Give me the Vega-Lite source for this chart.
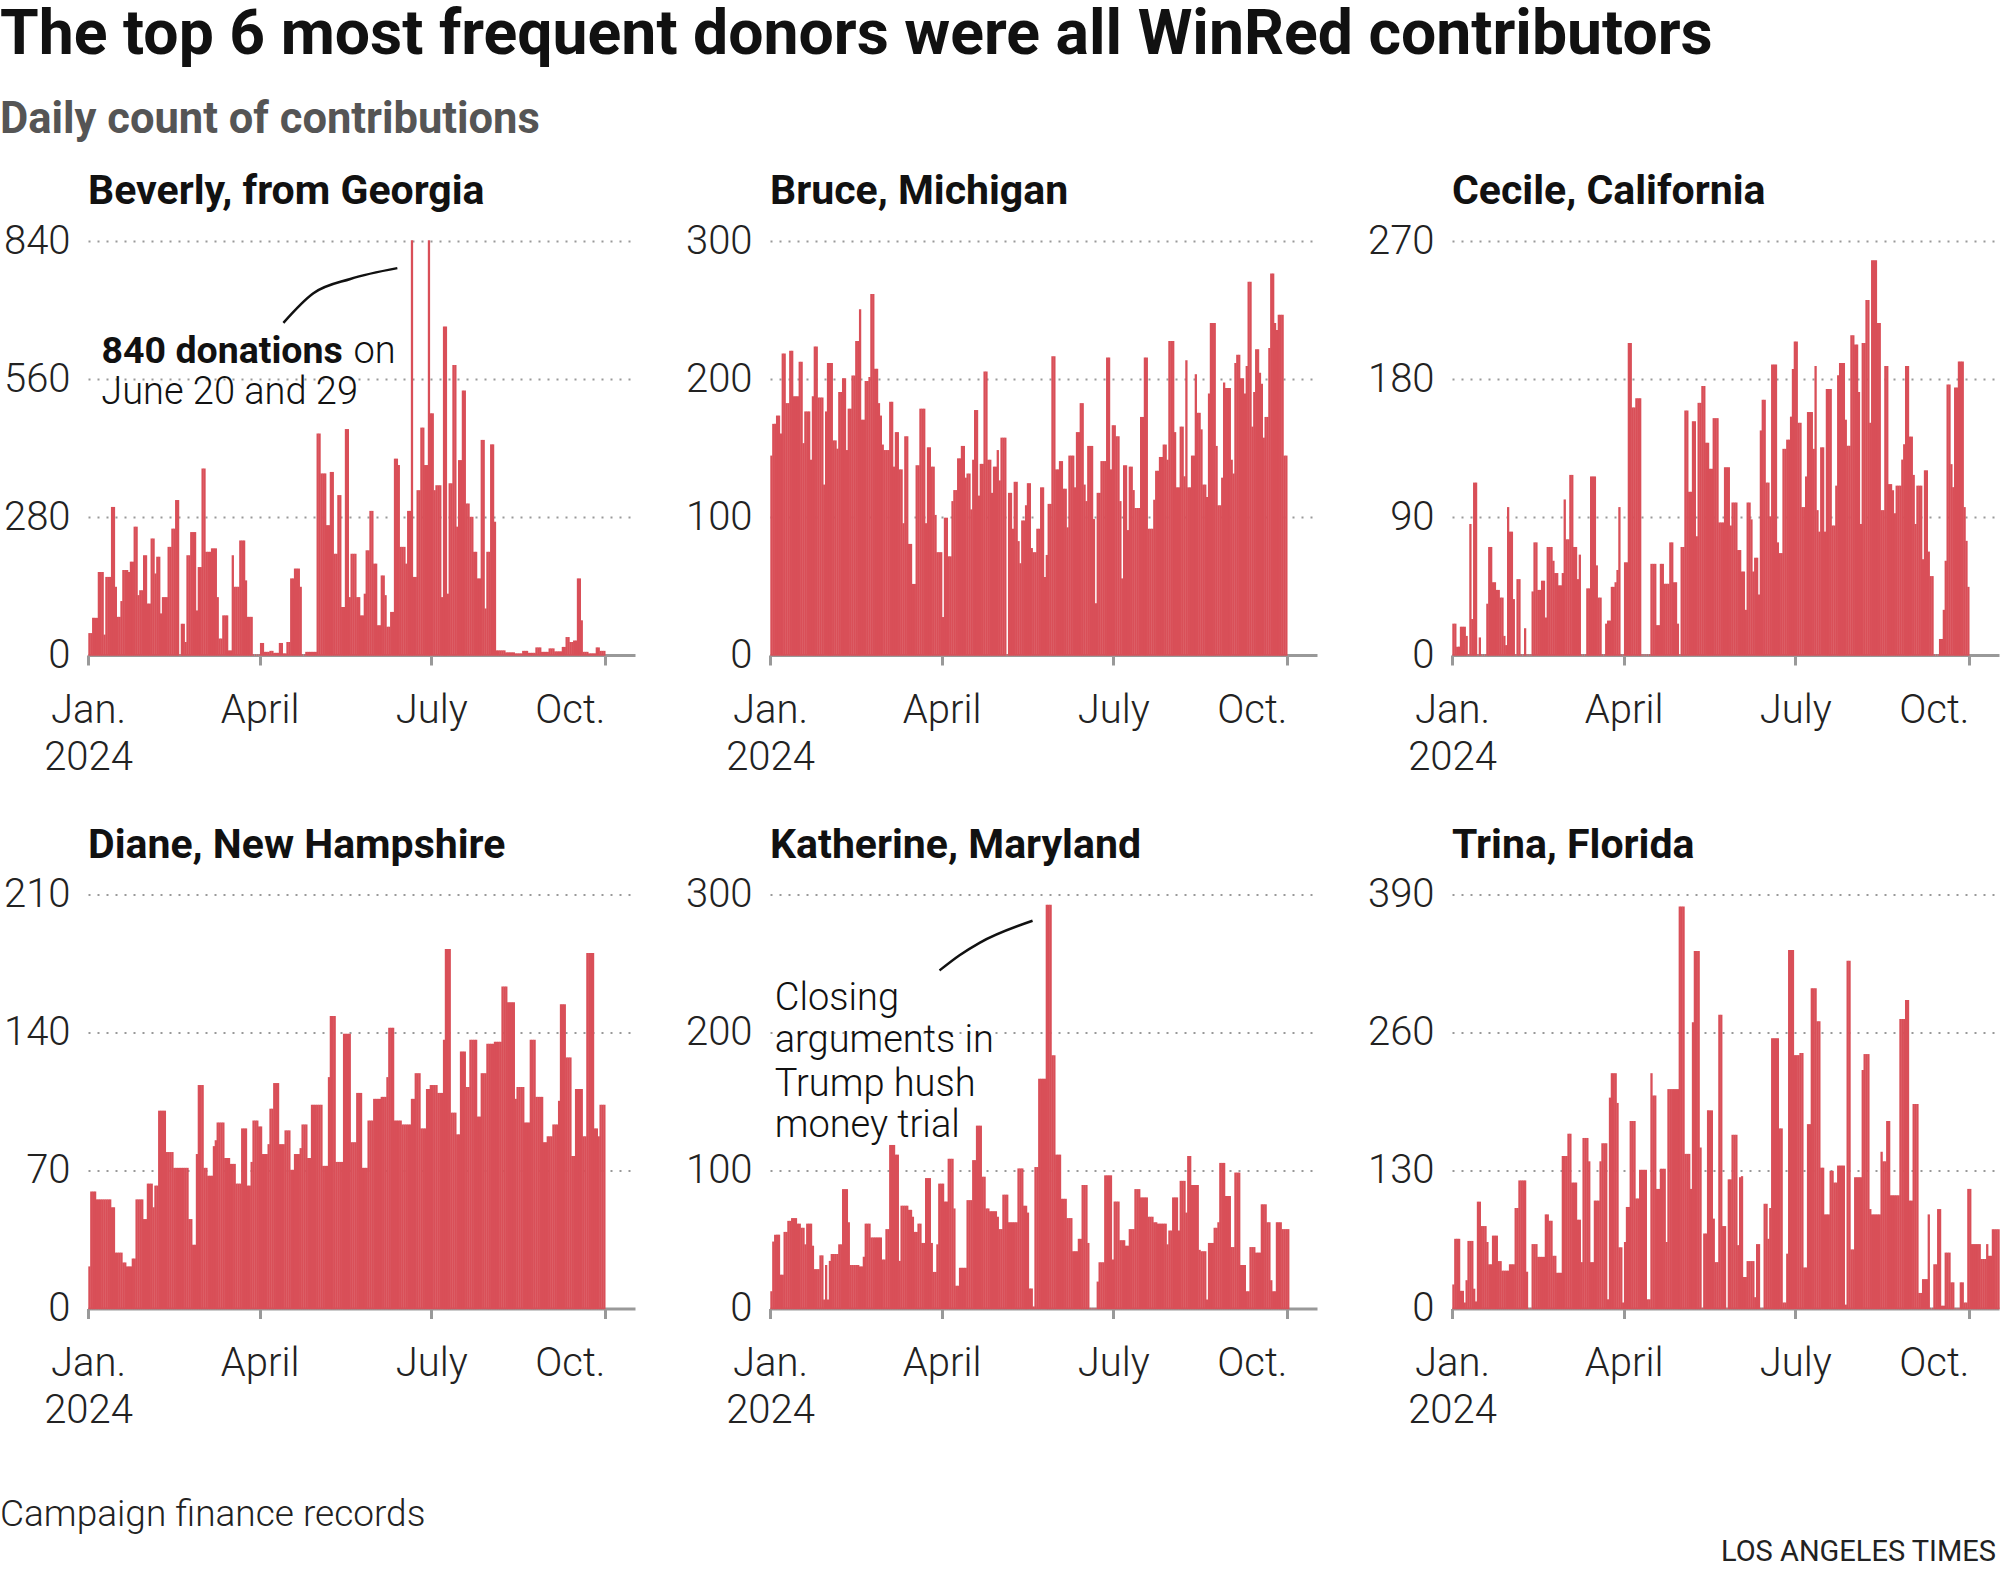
{
"$schema": "https://vega.github.io/schema/vega-lite/v6.json",
"padding": {"top": 3, "left": 0, "right": 0, "bottom": 0},
"background": "white",
"title": {"text": "The top 6 most frequent donors were all WinRed contributors", "subtitle": "Daily count of contributions", "anchor": "start", "frame": "group", "dx": -88, "font": "Roboto", "fontSize": 62.5, "fontWeight": "bold", "color": "#111", "subtitleFont": "Roboto", "subtitleFontSize": 43.5, "subtitleFontWeight": "bold", "subtitleColor": "#555", "subtitlePadding": 32, "offset": 28.5},
"datasets": {"donors": [
{"d":"2024-01-01","bev":43,"bru":144,"cec":20,"dia":21,"kat":12,"tri":22},
{"d":"2024-01-02","bev":43,"bru":167,"cec":20,"dia":59,"kat":48,"tri":65},
{"d":"2024-01-03","bev":74,"bru":167,"cec":5,"dia":59,"kat":53,"tri":65},
{"d":"2024-01-04","bev":74,"bru":173,"cec":5,"dia":59,"kat":53,"tri":65},
{"d":"2024-01-05","bev":74,"bru":173,"cec":18,"dia":55,"kat":53,"tri":16},
{"d":"2024-01-06","bev":167,"bru":160,"cec":18,"dia":55,"kat":24,"tri":16},
{"d":"2024-01-07","bev":167,"bru":218,"cec":18,"dia":55,"kat":24,"tri":5},
{"d":"2024-01-08","bev":167,"bru":218,"cec":12,"dia":55,"kat":55,"tri":26},
{"d":"2024-01-09","bev":40,"bru":182,"cec":0,"dia":55,"kat":55,"tri":63},
{"d":"2024-01-10","bev":157,"bru":182,"cec":85,"dia":55,"kat":63,"tri":63},
{"d":"2024-01-11","bev":157,"bru":220,"cec":23,"dia":55,"kat":63,"tri":63},
{"d":"2024-01-12","bev":157,"bru":220,"cec":112,"dia":55,"kat":65,"tri":18},
{"d":"2024-01-13","bev":299,"bru":187,"cec":112,"dia":51,"kat":65,"tri":6},
{"d":"2024-01-14","bev":299,"bru":187,"cec":0,"dia":51,"kat":65,"tri":100},
{"d":"2024-01-15","bev":137,"bru":187,"cec":11,"dia":28,"kat":61,"tri":100},
{"d":"2024-01-16","bev":76,"bru":212,"cec":0,"dia":28,"kat":61,"tri":77},
{"d":"2024-01-17","bev":76,"bru":212,"cec":0,"dia":28,"kat":58,"tri":77},
{"d":"2024-01-18","bev":108,"bru":153,"cec":0,"dia":28,"kat":58,"tri":77},
{"d":"2024-01-19","bev":171,"bru":176,"cec":33,"dia":23,"kat":46,"tri":62},
{"d":"2024-01-20","bev":171,"bru":176,"cec":70,"dia":23,"kat":61,"tri":41},
{"d":"2024-01-21","bev":171,"bru":176,"cec":70,"dia":21,"kat":61,"tri":41},
{"d":"2024-01-22","bev":167,"bru":141,"cec":47,"dia":21,"kat":61,"tri":68},
{"d":"2024-01-23","bev":188,"bru":187,"cec":47,"dia":21,"kat":45,"tri":68},
{"d":"2024-01-24","bev":188,"bru":223,"cec":42,"dia":25,"kat":28,"tri":68},
{"d":"2024-01-25","bev":259,"bru":223,"cec":42,"dia":25,"kat":28,"tri":44},
{"d":"2024-01-26","bev":259,"bru":186,"cec":37,"dia":55,"kat":28,"tri":44},
{"d":"2024-01-27","bev":120,"bru":186,"cec":37,"dia":55,"kat":38,"tri":35},
{"d":"2024-01-28","bev":130,"bru":186,"cec":12,"dia":55,"kat":38,"tri":35},
{"d":"2024-01-29","bev":130,"bru":123,"cec":6,"dia":55,"kat":6,"tri":35},
{"d":"2024-01-30","bev":201,"bru":176,"cec":96,"dia":45,"kat":31,"tri":35},
{"d":"2024-01-31","bev":201,"bru":211,"cec":80,"dia":45,"kat":6,"tri":41},
{"d":"2024-02-01","bev":103,"bru":211,"cec":80,"dia":63,"kat":34,"tri":41},
{"d":"2024-02-02","bev":103,"bru":211,"cec":36,"dia":63,"kat":39,"tri":41},
{"d":"2024-02-03","bev":235,"bru":155,"cec":0,"dia":63,"kat":39,"tri":94},
{"d":"2024-02-04","bev":235,"bru":155,"cec":49,"dia":51,"kat":39,"tri":94},
{"d":"2024-02-05","bev":164,"bru":149,"cec":49,"dia":62,"kat":39,"tri":120},
{"d":"2024-02-06","bev":198,"bru":190,"cec":0,"dia":62,"kat":46,"tri":120},
{"d":"2024-02-07","bev":198,"bru":190,"cec":0,"dia":100,"kat":46,"tri":120},
{"d":"2024-02-08","bev":83,"bru":200,"cec":17,"dia":100,"kat":86,"tri":120},
{"d":"2024-02-09","bev":116,"bru":200,"cec":0,"dia":100,"kat":86,"tri":34},
{"d":"2024-02-10","bev":116,"bru":148,"cec":0,"dia":100,"kat":86,"tri":0},
{"d":"2024-02-11","bev":116,"bru":178,"cec":0,"dia":79,"kat":62,"tri":0},
{"d":"2024-02-12","bev":218,"bru":178,"cec":41,"dia":79,"kat":31,"tri":60},
{"d":"2024-02-13","bev":218,"bru":202,"cec":73,"dia":79,"kat":31,"tri":60},
{"d":"2024-02-14","bev":255,"bru":202,"cec":73,"dia":79,"kat":31,"tri":60},
{"d":"2024-02-15","bev":255,"bru":227,"cec":42,"dia":71,"kat":31,"tri":48},
{"d":"2024-02-16","bev":313,"bru":227,"cec":42,"dia":71,"kat":31,"tri":48},
{"d":"2024-02-17","bev":313,"bru":250,"cec":48,"dia":71,"kat":30,"tri":48},
{"d":"2024-02-18","bev":0,"bru":170,"cec":48,"dia":71,"kat":30,"tri":48},
{"d":"2024-02-19","bev":62,"bru":170,"cec":24,"dia":71,"kat":37,"tri":88},
{"d":"2024-02-20","bev":62,"bru":198,"cec":70,"dia":71,"kat":61,"tri":88},
{"d":"2024-02-21","bev":25,"bru":198,"cec":70,"dia":71,"kat":61,"tri":82},
{"d":"2024-02-22","bev":201,"bru":201,"cec":70,"dia":71,"kat":61,"tri":82},
{"d":"2024-02-23","bev":201,"bru":261,"cec":61,"dia":45,"kat":51,"tri":49},
{"d":"2024-02-24","bev":248,"bru":261,"cec":53,"dia":45,"kat":51,"tri":49},
{"d":"2024-02-25","bev":248,"bru":207,"cec":53,"dia":32,"kat":51,"tri":33},
{"d":"2024-02-26","bev":248,"bru":207,"cec":45,"dia":32,"kat":51,"tri":33},
{"d":"2024-02-27","bev":89,"bru":182,"cec":45,"dia":78,"kat":51,"tri":33},
{"d":"2024-02-28","bev":177,"bru":173,"cec":53,"dia":113,"kat":51,"tri":143},
{"d":"2024-02-29","bev":177,"bru":152,"cec":101,"dia":113,"kat":35,"tri":143},
{"d":"2024-03-01","bev":377,"bru":148,"cec":75,"dia":113,"kat":35,"tri":143},
{"d":"2024-03-02","bev":377,"bru":148,"cec":75,"dia":71,"kat":57,"tri":164},
{"d":"2024-03-03","bev":208,"bru":148,"cec":117,"dia":71,"kat":57,"tri":164},
{"d":"2024-03-04","bev":208,"bru":183,"cec":117,"dia":67,"kat":118,"tri":118},
{"d":"2024-03-05","bev":208,"bru":183,"cec":70,"dia":67,"kat":118,"tri":118},
{"d":"2024-03-06","bev":215,"bru":136,"cec":70,"dia":67,"kat":118,"tri":118},
{"d":"2024-03-07","bev":215,"bru":161,"cec":49,"dia":82,"kat":111,"tri":83},
{"d":"2024-03-08","bev":215,"bru":161,"cec":65,"dia":85,"kat":111,"tri":83},
{"d":"2024-03-09","bev":116,"bru":134,"cec":0,"dia":94,"kat":34,"tri":43},
{"d":"2024-03-10","bev":32,"bru":134,"cec":0,"dia":94,"kat":74,"tri":160},
{"d":"2024-03-11","bev":32,"bru":95,"cec":0,"dia":94,"kat":74,"tri":160},
{"d":"2024-03-12","bev":79,"bru":158,"cec":43,"dia":94,"kat":74,"tri":160},
{"d":"2024-03-13","bev":79,"bru":158,"cec":43,"dia":76,"kat":74,"tri":138},
{"d":"2024-03-14","bev":79,"bru":80,"cec":116,"dia":76,"kat":71,"tri":43},
{"d":"2024-03-15","bev":8,"bru":80,"cec":116,"dia":76,"kat":71,"tri":43},
{"d":"2024-03-16","bev":8,"bru":51,"cec":116,"dia":73,"kat":66,"tri":101},
{"d":"2024-03-17","bev":201,"bru":51,"cec":58,"dia":73,"kat":55,"tri":101},
{"d":"2024-03-18","bev":137,"bru":137,"cec":37,"dia":73,"kat":55,"tri":101},
{"d":"2024-03-19","bev":137,"bru":137,"cec":37,"dia":63,"kat":61,"tri":138},
{"d":"2024-03-20","bev":137,"bru":178,"cec":0,"dia":63,"kat":61,"tri":155},
{"d":"2024-03-21","bev":231,"bru":178,"cec":0,"dia":63,"kat":47,"tri":155},
{"d":"2024-03-22","bev":231,"bru":178,"cec":20,"dia":91,"kat":47,"tri":155},
{"d":"2024-03-23","bev":231,"bru":95,"cec":22,"dia":91,"kat":94,"tri":8},
{"d":"2024-03-24","bev":150,"bru":150,"cec":22,"dia":91,"kat":94,"tri":198},
{"d":"2024-03-25","bev":76,"bru":150,"cec":44,"dia":62,"kat":94,"tri":221},
{"d":"2024-03-26","bev":76,"bru":136,"cec":44,"dia":62,"kat":47,"tri":221},
{"d":"2024-03-27","bev":76,"bru":136,"cec":47,"dia":74,"kat":26,"tri":221},
{"d":"2024-03-28","bev":0,"bru":101,"cec":55,"dia":95,"kat":26,"tri":193},
{"d":"2024-03-29","bev":0,"bru":74,"cec":96,"dia":95,"kat":46,"tri":57},
{"d":"2024-03-30","bev":0,"bru":74,"cec":0,"dia":95,"kat":90,"tri":57},
{"d":"2024-03-31","bev":0,"bru":74,"cec":0,"dia":92,"kat":90,"tri":5},
{"d":"2024-04-01","bev":23,"bru":27,"cec":60,"dia":92,"kat":90,"tri":62},
{"d":"2024-04-02","bev":23,"bru":99,"cec":60,"dia":78,"kat":77,"tri":95},
{"d":"2024-04-03","bev":5,"bru":99,"cec":203,"dia":78,"kat":77,"tri":95},
{"d":"2024-04-04","bev":5,"bru":71,"cec":203,"dia":78,"kat":108,"tri":176},
{"d":"2024-04-05","bev":5,"bru":71,"cec":161,"dia":83,"kat":108,"tri":176},
{"d":"2024-04-06","bev":7,"bru":111,"cec":161,"dia":101,"kat":108,"tri":176},
{"d":"2024-04-07","bev":7,"bru":119,"cec":167,"dia":101,"kat":72,"tri":103},
{"d":"2024-04-08","bev":3,"bru":119,"cec":167,"dia":114,"kat":16,"tri":103},
{"d":"2024-04-09","bev":3,"bru":142,"cec":167,"dia":114,"kat":16,"tri":130},
{"d":"2024-04-10","bev":3,"bru":142,"cec":0,"dia":114,"kat":29,"tri":130},
{"d":"2024-04-11","bev":23,"bru":151,"cec":0,"dia":83,"kat":29,"tri":130},
{"d":"2024-04-12","bev":23,"bru":151,"cec":0,"dia":83,"kat":29,"tri":130},
{"d":"2024-04-13","bev":2,"bru":128,"cec":0,"dia":83,"kat":29,"tri":8},
{"d":"2024-04-14","bev":2,"bru":131,"cec":0,"dia":90,"kat":78,"tri":8},
{"d":"2024-04-15","bev":25,"bru":131,"cec":59,"dia":90,"kat":78,"tri":221},
{"d":"2024-04-16","bev":25,"bru":105,"cec":59,"dia":90,"kat":78,"tri":200},
{"d":"2024-04-17","bev":154,"bru":141,"cec":59,"dia":70,"kat":107,"tri":200},
{"d":"2024-04-18","bev":154,"bru":177,"cec":19,"dia":70,"kat":107,"tri":112},
{"d":"2024-04-19","bev":174,"bru":177,"cec":19,"dia":78,"kat":132,"tri":112},
{"d":"2024-04-20","bev":174,"bru":115,"cec":59,"dia":78,"kat":132,"tri":131},
{"d":"2024-04-21","bev":174,"bru":138,"cec":59,"dia":78,"kat":132,"tri":131},
{"d":"2024-04-22","bev":137,"bru":138,"cec":46,"dia":81,"kat":95,"tri":131},
{"d":"2024-04-23","bev":0,"bru":205,"cec":46,"dia":93,"kat":95,"tri":62},
{"d":"2024-04-24","bev":0,"bru":205,"cec":46,"dia":93,"kat":72,"tri":206},
{"d":"2024-04-25","bev":5,"bru":141,"cec":73,"dia":93,"kat":72,"tri":206},
{"d":"2024-04-26","bev":5,"bru":141,"cec":73,"dia":76,"kat":70,"tri":206},
{"d":"2024-04-27","bev":5,"bru":117,"cec":47,"dia":76,"kat":70,"tri":206},
{"d":"2024-04-28","bev":5,"bru":136,"cec":47,"dia":103,"kat":70,"tri":206},
{"d":"2024-04-29","bev":5,"bru":136,"cec":20,"dia":103,"kat":70,"tri":206},
{"d":"2024-04-30","bev":5,"bru":148,"cec":0,"dia":103,"kat":66,"tri":378},
{"d":"2024-05-01","bev":448,"bru":126,"cec":70,"dia":103,"kat":57,"tri":378},
{"d":"2024-05-02","bev":448,"bru":157,"cec":70,"dia":103,"kat":57,"tri":378},
{"d":"2024-05-03","bev":367,"bru":157,"cec":159,"dia":103,"kat":82,"tri":145},
{"d":"2024-05-04","bev":367,"bru":157,"cec":159,"dia":72,"kat":82,"tri":145},
{"d":"2024-05-05","bev":367,"bru":0,"cec":106,"dia":72,"kat":82,"tri":145},
{"d":"2024-05-06","bev":262,"bru":117,"cec":106,"dia":72,"kat":62,"tri":112},
{"d":"2024-05-07","bev":262,"bru":117,"cec":152,"dia":117,"kat":62,"tri":269},
{"d":"2024-05-08","bev":370,"bru":91,"cec":152,"dia":148,"kat":62,"tri":336},
{"d":"2024-05-09","bev":370,"bru":125,"cec":77,"dia":148,"kat":62,"tri":336},
{"d":"2024-05-10","bev":204,"bru":125,"cec":164,"dia":148,"kat":62,"tri":336},
{"d":"2024-05-11","bev":204,"bru":82,"cec":164,"dia":74,"kat":101,"tri":151},
{"d":"2024-05-12","bev":323,"bru":66,"cec":175,"dia":74,"kat":101,"tri":0},
{"d":"2024-05-13","bev":323,"bru":97,"cec":175,"dia":74,"kat":101,"tri":70},
{"d":"2024-05-14","bev":96,"bru":97,"cec":138,"dia":74,"kat":74,"tri":70},
{"d":"2024-05-15","bev":96,"bru":108,"cec":138,"dia":139,"kat":74,"tri":186},
{"d":"2024-05-16","bev":457,"bru":124,"cec":121,"dia":139,"kat":69,"tri":186},
{"d":"2024-05-17","bev":457,"bru":124,"cec":121,"dia":139,"kat":14,"tri":186},
{"d":"2024-05-18","bev":116,"bru":77,"cec":154,"dia":139,"kat":14,"tri":84},
{"d":"2024-05-19","bev":204,"bru":74,"cec":154,"dia":84,"kat":1,"tri":43},
{"d":"2024-05-20","bev":204,"bru":74,"cec":154,"dia":84,"kat":102,"tri":43},
{"d":"2024-05-21","bev":204,"bru":91,"cec":86,"dia":84,"kat":102,"tri":276},
{"d":"2024-05-22","bev":116,"bru":91,"cec":86,"dia":109,"kat":166,"tri":276},
{"d":"2024-05-23","bev":116,"bru":121,"cec":86,"dia":109,"kat":166,"tri":77},
{"d":"2024-05-24","bev":79,"bru":121,"cec":122,"dia":109,"kat":166,"tri":77},
{"d":"2024-05-25","bev":79,"bru":56,"cec":122,"dia":71,"kat":166,"tri":0},
{"d":"2024-05-26","bev":123,"bru":72,"cec":122,"dia":71,"kat":292,"tri":121},
{"d":"2024-05-27","bev":211,"bru":109,"cec":84,"dia":71,"kat":292,"tri":121},
{"d":"2024-05-28","bev":211,"bru":109,"cec":99,"dia":95,"kat":292,"tri":163},
{"d":"2024-05-29","bev":291,"bru":216,"cec":99,"dia":95,"kat":183,"tri":163},
{"d":"2024-05-30","bev":291,"bru":216,"cec":99,"dia":95,"kat":183,"tri":163},
{"d":"2024-05-31","bev":184,"bru":134,"cec":68,"dia":106,"kat":111,"tri":59},
{"d":"2024-06-01","bev":184,"bru":134,"cec":68,"dia":106,"kat":111,"tri":123},
{"d":"2024-06-02","bev":59,"bru":140,"cec":54,"dia":106,"kat":111,"tri":124},
{"d":"2024-06-03","bev":59,"bru":140,"cec":54,"dia":106,"kat":79,"tri":29},
{"d":"2024-06-04","bev":160,"bru":120,"cec":29,"dia":107,"kat":79,"tri":29},
{"d":"2024-06-05","bev":160,"bru":120,"cec":99,"dia":107,"kat":79,"tri":44},
{"d":"2024-06-06","bev":120,"bru":92,"cec":99,"dia":107,"kat":65,"tri":44},
{"d":"2024-06-07","bev":56,"bru":144,"cec":88,"dia":117,"kat":65,"tri":44},
{"d":"2024-06-08","bev":56,"bru":144,"cec":54,"dia":142,"kat":65,"tri":44},
{"d":"2024-06-09","bev":86,"bru":144,"cec":63,"dia":142,"kat":41,"tri":10},
{"d":"2024-06-10","bev":86,"bru":121,"cec":63,"dia":142,"kat":41,"tri":60},
{"d":"2024-06-11","bev":397,"bru":161,"cec":39,"dia":95,"kat":41,"tri":60},
{"d":"2024-06-12","bev":397,"bru":161,"cec":146,"dia":95,"kat":50,"tri":0},
{"d":"2024-06-13","bev":384,"bru":182,"cec":166,"dia":95,"kat":50,"tri":0},
{"d":"2024-06-14","bev":218,"bru":182,"cec":166,"dia":95,"kat":89,"tri":98},
{"d":"2024-06-15","bev":218,"bru":123,"cec":112,"dia":93,"kat":89,"tri":98},
{"d":"2024-06-16","bev":218,"bru":111,"cec":112,"dia":93,"kat":89,"tri":65},
{"d":"2024-06-17","bev":184,"bru":151,"cec":90,"dia":93,"kat":47,"tri":94},
{"d":"2024-06-18","bev":291,"bru":151,"cec":189,"dia":93,"kat":0,"tri":254},
{"d":"2024-06-19","bev":291,"bru":151,"cec":189,"dia":93,"kat":0,"tri":254},
{"d":"2024-06-20","bev":840,"bru":98,"cec":189,"dia":106,"kat":0,"tri":254},
{"d":"2024-06-21","bev":157,"bru":37,"cec":73,"dia":106,"kat":0,"tri":254},
{"d":"2024-06-22","bev":157,"bru":117,"cec":66,"dia":119,"kat":19,"tri":169},
{"d":"2024-06-23","bev":333,"bru":117,"cec":66,"dia":119,"kat":33,"tri":169},
{"d":"2024-06-24","bev":333,"bru":140,"cec":134,"dia":119,"kat":33,"tri":5},
{"d":"2024-06-25","bev":460,"bru":140,"cec":134,"dia":91,"kat":33,"tri":5},
{"d":"2024-06-26","bev":460,"bru":140,"cec":140,"dia":91,"kat":96,"tri":51},
{"d":"2024-06-27","bev":384,"bru":215,"cec":140,"dia":91,"kat":96,"tri":337},
{"d":"2024-06-28","bev":384,"bru":215,"cec":155,"dia":111,"kat":96,"tri":337},
{"d":"2024-06-29","bev":840,"bru":134,"cec":186,"dia":111,"kat":96,"tri":337},
{"d":"2024-06-30","bev":489,"bru":166,"cec":204,"dia":113,"kat":35,"tri":238},
{"d":"2024-07-01","bev":489,"bru":166,"cec":204,"dia":113,"kat":77,"tri":238},
{"d":"2024-07-02","bev":333,"bru":158,"cec":151,"dia":113,"kat":77,"tri":238},
{"d":"2024-07-03","bev":343,"bru":158,"cec":151,"dia":113,"kat":77,"tri":240},
{"d":"2024-07-04","bev":343,"bru":111,"cec":96,"dia":109,"kat":49,"tri":240},
{"d":"2024-07-05","bev":343,"bru":55,"cec":96,"dia":109,"kat":49,"tri":38},
{"d":"2024-07-06","bev":116,"bru":137,"cec":116,"dia":109,"kat":49,"tri":38},
{"d":"2024-07-07","bev":665,"bru":137,"cec":158,"dia":136,"kat":45,"tri":173},
{"d":"2024-07-08","bev":665,"bru":90,"cec":158,"dia":182,"kat":45,"tri":173},
{"d":"2024-07-09","bev":123,"bru":136,"cec":158,"dia":182,"kat":57,"tri":301},
{"d":"2024-07-10","bev":347,"bru":136,"cec":134,"dia":182,"kat":57,"tri":301},
{"d":"2024-07-11","bev":347,"bru":119,"cec":188,"dia":99,"kat":57,"tri":301},
{"d":"2024-07-12","bev":587,"bru":106,"cec":94,"dia":99,"kat":86,"tri":270},
{"d":"2024-07-13","bev":587,"bru":106,"cec":80,"dia":99,"kat":86,"tri":270},
{"d":"2024-07-14","bev":259,"bru":106,"cec":135,"dia":88,"kat":86,"tri":132},
{"d":"2024-07-15","bev":394,"bru":172,"cec":135,"dia":88,"kat":80,"tri":132},
{"d":"2024-07-16","bev":394,"bru":172,"cec":80,"dia":130,"kat":80,"tri":88},
{"d":"2024-07-17","bev":535,"bru":215,"cec":173,"dia":130,"kat":80,"tri":88},
{"d":"2024-07-18","bev":535,"bru":215,"cec":173,"dia":130,"kat":80,"tri":88},
{"d":"2024-07-19","bev":306,"bru":91,"cec":173,"dia":112,"kat":66,"tri":129},
{"d":"2024-07-20","bev":306,"bru":91,"cec":84,"dia":112,"kat":66,"tri":129},
{"d":"2024-07-21","bev":279,"bru":91,"cec":84,"dia":136,"kat":66,"tri":118},
{"d":"2024-07-22","bev":279,"bru":112,"cec":110,"dia":136,"kat":62,"tri":118},
{"d":"2024-07-23","bev":208,"bru":133,"cec":182,"dia":136,"kat":62,"tri":134},
{"d":"2024-07-24","bev":208,"bru":133,"cec":190,"dia":136,"kat":61,"tri":134},
{"d":"2024-07-25","bev":154,"bru":143,"cec":190,"dia":97,"kat":61,"tri":134},
{"d":"2024-07-26","bev":154,"bru":143,"cec":190,"dia":97,"kat":61,"tri":134},
{"d":"2024-07-27","bev":435,"bru":152,"cec":153,"dia":119,"kat":61,"tri":3},
{"d":"2024-07-28","bev":435,"bru":152,"cec":136,"dia":119,"kat":61,"tri":327},
{"d":"2024-07-29","bev":93,"bru":141,"cec":136,"dia":119,"kat":46,"tri":327},
{"d":"2024-07-30","bev":208,"bru":227,"cec":208,"dia":134,"kat":56,"tri":55},
{"d":"2024-07-31","bev":208,"bru":227,"cec":208,"dia":134,"kat":56,"tri":55},
{"d":"2024-08-01","bev":426,"bru":227,"cec":202,"dia":134,"kat":80,"tri":123},
{"d":"2024-08-02","bev":426,"bru":161,"cec":202,"dia":134,"kat":80,"tri":123},
{"d":"2024-08-03","bev":269,"bru":121,"cec":171,"dia":135,"kat":80,"tri":123},
{"d":"2024-08-04","bev":8,"bru":121,"cec":85,"dia":135,"kat":56,"tri":123},
{"d":"2024-08-05","bev":8,"bru":165,"cec":203,"dia":135,"kat":92,"tri":224},
{"d":"2024-08-06","bev":8,"bru":165,"cec":203,"dia":135,"kat":92,"tri":239},
{"d":"2024-08-07","bev":8,"bru":129,"cec":231,"dia":163,"kat":92,"tri":239},
{"d":"2024-08-08","bev":8,"bru":213,"cec":231,"dia":163,"kat":69,"tri":239},
{"d":"2024-08-09","bev":4,"bru":121,"cec":151,"dia":163,"kat":110,"tri":93},
{"d":"2024-08-10","bev":4,"bru":121,"cec":257,"dia":155,"kat":110,"tri":88},
{"d":"2024-08-11","bev":4,"bru":144,"cec":257,"dia":155,"kat":89,"tri":88},
{"d":"2024-08-12","bev":4,"bru":144,"cec":257,"dia":155,"kat":89,"tri":88},
{"d":"2024-08-13","bev":4,"bru":203,"cec":216,"dia":155,"kat":89,"tri":88},
{"d":"2024-08-14","bev":2,"bru":175,"cec":216,"dia":106,"kat":89,"tri":88},
{"d":"2024-08-15","bev":2,"bru":175,"cec":94,"dia":112,"kat":42,"tri":147},
{"d":"2024-08-16","bev":2,"bru":163,"cec":94,"dia":112,"kat":41,"tri":138},
{"d":"2024-08-17","bev":2,"bru":123,"cec":188,"dia":112,"kat":41,"tri":138},
{"d":"2024-08-18","bev":7,"bru":123,"cec":188,"dia":112,"kat":41,"tri":176},
{"d":"2024-08-19","bev":7,"bru":114,"cec":111,"dia":94,"kat":6,"tri":176},
{"d":"2024-08-20","bev":7,"bru":189,"cec":111,"dia":94,"kat":47,"tri":106},
{"d":"2024-08-21","bev":3,"bru":240,"cec":107,"dia":94,"kat":47,"tri":106},
{"d":"2024-08-22","bev":3,"bru":240,"cec":92,"dia":136,"kat":47,"tri":106},
{"d":"2024-08-23","bev":3,"bru":240,"cec":110,"dia":136,"kat":58,"tri":106},
{"d":"2024-08-24","bev":3,"bru":151,"cec":110,"dia":136,"kat":58,"tri":106},
{"d":"2024-08-25","bev":14,"bru":108,"cec":110,"dia":107,"kat":62,"tri":272},
{"d":"2024-08-26","bev":14,"bru":108,"cec":127,"dia":107,"kat":105,"tri":272},
{"d":"2024-08-27","bev":14,"bru":128,"cec":137,"dia":107,"kat":105,"tri":272},
{"d":"2024-08-28","bev":5,"bru":197,"cec":188,"dia":107,"kat":105,"tri":290},
{"d":"2024-08-29","bev":5,"bru":193,"cec":188,"dia":84,"kat":81,"tri":290},
{"d":"2024-08-30","bev":5,"bru":193,"cec":142,"dia":84,"kat":81,"tri":101},
{"d":"2024-08-31","bev":5,"bru":193,"cec":142,"dia":87,"kat":81,"tri":101},
{"d":"2024-09-01","bev":12,"bru":141,"cec":117,"dia":87,"kat":44,"tri":192},
{"d":"2024-09-02","bev":12,"bru":131,"cec":85,"dia":87,"kat":44,"tri":192},
{"d":"2024-09-03","bev":12,"bru":211,"cec":110,"dia":93,"kat":98,"tri":192},
{"d":"2024-09-04","bev":6,"bru":217,"cec":110,"dia":93,"kat":98,"tri":14},
{"d":"2024-09-05","bev":6,"bru":217,"cec":110,"dia":93,"kat":98,"tri":14},
{"d":"2024-09-06","bev":6,"bru":200,"cec":62,"dia":105,"kat":31,"tri":27},
{"d":"2024-09-07","bev":6,"bru":200,"cec":120,"dia":154,"kat":31,"tri":27},
{"d":"2024-09-08","bev":15,"bru":189,"cec":120,"dia":154,"kat":31,"tri":27},
{"d":"2024-09-09","bev":15,"bru":209,"cec":67,"dia":154,"kat":12,"tri":88},
{"d":"2024-09-10","bev":35,"bru":270,"cec":51,"dia":127,"kat":12,"tri":0},
{"d":"2024-09-11","bev":35,"bru":270,"cec":51,"dia":127,"kat":44,"tri":0},
{"d":"2024-09-12","bev":25,"bru":165,"cec":0,"dia":127,"kat":44,"tri":41},
{"d":"2024-09-13","bev":25,"bru":190,"cec":0,"dia":77,"kat":44,"tri":41},
{"d":"2024-09-14","bev":28,"bru":221,"cec":0,"dia":77,"kat":40,"tri":93},
{"d":"2024-09-15","bev":28,"bru":221,"cec":10,"dia":111,"kat":40,"tri":93},
{"d":"2024-09-16","bev":154,"bru":204,"cec":10,"dia":111,"kat":40,"tri":2},
{"d":"2024-09-17","bev":154,"bru":196,"cec":29,"dia":111,"kat":75,"tri":2},
{"d":"2024-09-18","bev":69,"bru":157,"cec":61,"dia":111,"kat":75,"tri":52},
{"d":"2024-09-19","bev":5,"bru":172,"cec":176,"dia":87,"kat":75,"tri":52},
{"d":"2024-09-20","bev":5,"bru":172,"cec":176,"dia":87,"kat":62,"tri":52},
{"d":"2024-09-21","bev":5,"bru":222,"cec":124,"dia":180,"kat":62,"tri":24},
{"d":"2024-09-22","bev":2,"bru":276,"cec":109,"dia":180,"kat":20,"tri":24},
{"d":"2024-09-23","bev":2,"bru":276,"cec":174,"dia":180,"kat":12,"tri":0},
{"d":"2024-09-24","bev":2,"bru":240,"cec":174,"dia":180,"kat":12,"tri":0},
{"d":"2024-09-25","bev":2,"bru":235,"cec":191,"dia":91,"kat":62,"tri":0},
{"d":"2024-09-26","bev":14,"bru":246,"cec":191,"dia":91,"kat":62,"tri":24},
{"d":"2024-09-27","bev":14,"bru":246,"cec":191,"dia":87,"kat":62,"tri":24},
{"d":"2024-09-28","bev":7,"bru":246,"cec":96,"dia":103,"kat":57,"tri":5},
{"d":"2024-09-29","bev":7,"bru":144,"cec":74,"dia":103,"kat":57,"tri":5},
{"d":"2024-09-30","bev":7,"bru":144,"cec":44,"dia":103,"kat":57,"tri":112},
{"d":"2024-10-01","kat":57,"tri":112},
{"d":"2024-10-02","tri":60},
{"d":"2024-10-03","tri":60},
{"d":"2024-10-04","tri":60},
{"d":"2024-10-05","tri":60},
{"d":"2024-10-06","tri":60},
{"d":"2024-10-07","tri":46},
{"d":"2024-10-08","tri":46},
{"d":"2024-10-09","tri":46},
{"d":"2024-10-10","tri":60},
{"d":"2024-10-11","tri":49},
{"d":"2024-10-12","tri":49},
{"d":"2024-10-13","tri":74},
{"d":"2024-10-14","tri":74},
{"d":"2024-10-15","tri":74},
{"d":"2024-10-16","tri":74}
]},
"data": {"name": "donors"},
"vconcat": [
 {"hconcat": [
  {"width": 547, "height": 414, "title": "Beverly, from Georgia",
   "layer": [
    {"mark": {"type": "bar", "color": "#d94f58", "stroke": "#d94f58", "strokeWidth": 1.4},
     "encoding": {
      "x": {"field": "d", "timeUnit": "utcyearmonthdate", "type": "temporal", "title": null, "scale": {"type": "utc", "domain": [{"year": 2024, "month": 1, "date": 1, "utc": true}, {"year": 2024, "month": 10, "date": 17, "utc": true}]}, "axis": {"values": [{"year": 2024, "month": 1, "date": 1, "utc": true}, {"year": 2024, "month": 4, "date": 1, "utc": true}, {"year": 2024, "month": 7, "date": 1, "utc": true}, {"year": 2024, "month": 10, "date": 1, "utc": true}], "labelExpr": "utcmonth(datum.value) == 0 ? ['Jan.', '2024'] : utcmonth(datum.value) == 3 ? 'April' : utcmonth(datum.value) == 6 ? 'July' : 'Oct.'", "labelAlign": {"condition": {"test": "utcmonth(datum.value) == 9", "value": "right"}, "value": "center"}}},
      "y": {"field": "bev", "type": "quantitative", "title": null, "scale": {"domain": [0, 840], "nice": false}, "axis": {"values": [0, 280, 560, 840]}}}},
    {"data": {"values": [{"t": "2024-04-13T14:24:00Z", "v": 674}, {"t": "2024-04-29T12:00:00Z", "v": 734}, {"t": "2024-05-19T02:00:00Z", "v": 763}, {"t": "2024-06-13T00:00:00Z", "v": 785}]},
     "mark": {"type": "line", "interpolate": "monotone", "color": "#111", "strokeWidth": 2.5},
     "encoding": {"x": {"field": "t", "type": "temporal", "title": null, "scale": {"type": "utc"}}, "y": {"field": "v", "type": "quantitative", "title": null}}},
    {"data": {"values": [{"t": "2024-01-08T04:00:00Z", "v": 614, "label": "840 donations"}]},
     "mark": {"type": "text", "align": "left", "baseline": "middle", "font": "Roboto", "fontSize": 37.5, "fontWeight": "bold", "color": "#111"},
     "encoding": {"x": {"field": "t", "type": "temporal", "title": null, "scale": {"type": "utc"}}, "y": {"field": "v", "type": "quantitative", "title": null}, "text": {"field": "label"}}},
    {"data": {"values": [{"t": "2024-05-20T17:00:00Z", "v": 614, "label": "on"}, {"t": "2024-01-08T00:00:00Z", "v": 531, "label": "June 20 and 29"}]},
     "mark": {"type": "text", "align": "left", "baseline": "middle", "font": "Roboto", "fontSize": 38, "fontWeight": 300, "color": "#111"},
     "encoding": {"x": {"field": "t", "type": "temporal", "title": null, "scale": {"type": "utc"}}, "y": {"field": "v", "type": "quantitative", "title": null}, "text": {"field": "label"}}}
   ]},
  {"width": 547, "height": 414, "title": "Bruce, Michigan",
   "mark": {"type": "bar", "color": "#d94f58", "stroke": "#d94f58", "strokeWidth": 1.4},
   "encoding": {
    "x": {"field": "d", "timeUnit": "utcyearmonthdate", "type": "temporal", "title": null, "scale": {"type": "utc", "domain": [{"year": 2024, "month": 1, "date": 1, "utc": true}, {"year": 2024, "month": 10, "date": 17, "utc": true}]}, "axis": {"values": [{"year": 2024, "month": 1, "date": 1, "utc": true}, {"year": 2024, "month": 4, "date": 1, "utc": true}, {"year": 2024, "month": 7, "date": 1, "utc": true}, {"year": 2024, "month": 10, "date": 1, "utc": true}], "labelExpr": "utcmonth(datum.value) == 0 ? ['Jan.', '2024'] : utcmonth(datum.value) == 3 ? 'April' : utcmonth(datum.value) == 6 ? 'July' : 'Oct.'", "labelAlign": {"condition": {"test": "utcmonth(datum.value) == 9", "value": "right"}, "value": "center"}}},
    "y": {"field": "bru", "type": "quantitative", "title": null, "scale": {"domain": [0, 300], "nice": false}, "axis": {"values": [0, 100, 200, 300]}}}},
  {"width": 547, "height": 414, "title": "Cecile, California",
   "mark": {"type": "bar", "color": "#d94f58", "stroke": "#d94f58", "strokeWidth": 1.4},
   "encoding": {
    "x": {"field": "d", "timeUnit": "utcyearmonthdate", "type": "temporal", "title": null, "scale": {"type": "utc", "domain": [{"year": 2024, "month": 1, "date": 1, "utc": true}, {"year": 2024, "month": 10, "date": 17, "utc": true}]}, "axis": {"values": [{"year": 2024, "month": 1, "date": 1, "utc": true}, {"year": 2024, "month": 4, "date": 1, "utc": true}, {"year": 2024, "month": 7, "date": 1, "utc": true}, {"year": 2024, "month": 10, "date": 1, "utc": true}], "labelExpr": "utcmonth(datum.value) == 0 ? ['Jan.', '2024'] : utcmonth(datum.value) == 3 ? 'April' : utcmonth(datum.value) == 6 ? 'July' : 'Oct.'", "labelAlign": {"condition": {"test": "utcmonth(datum.value) == 9", "value": "right"}, "value": "center"}}},
    "y": {"field": "cec", "type": "quantitative", "title": null, "scale": {"domain": [0, 270], "nice": false}, "axis": {"values": [0, 90, 180, 270]}}}}
 ], "spacing": 135, "bounds": "flush"},
 {"hconcat": [
  {"width": 547, "height": 414, "title": "Diane, New Hampshire",
   "mark": {"type": "bar", "color": "#d94f58", "stroke": "#d94f58", "strokeWidth": 1.4},
   "encoding": {
    "x": {"field": "d", "timeUnit": "utcyearmonthdate", "type": "temporal", "title": null, "scale": {"type": "utc", "domain": [{"year": 2024, "month": 1, "date": 1, "utc": true}, {"year": 2024, "month": 10, "date": 17, "utc": true}]}, "axis": {"values": [{"year": 2024, "month": 1, "date": 1, "utc": true}, {"year": 2024, "month": 4, "date": 1, "utc": true}, {"year": 2024, "month": 7, "date": 1, "utc": true}, {"year": 2024, "month": 10, "date": 1, "utc": true}], "labelExpr": "utcmonth(datum.value) == 0 ? ['Jan.', '2024'] : utcmonth(datum.value) == 3 ? 'April' : utcmonth(datum.value) == 6 ? 'July' : 'Oct.'", "labelAlign": {"condition": {"test": "utcmonth(datum.value) == 9", "value": "right"}, "value": "center"}}},
    "y": {"field": "dia", "type": "quantitative", "title": null, "scale": {"domain": [0, 210], "nice": false}, "axis": {"values": [0, 70, 140, 210]}}}},
  {"width": 547, "height": 414, "title": "Katherine, Maryland",
   "layer": [
    {"mark": {"type": "bar", "color": "#d94f58", "stroke": "#d94f58", "strokeWidth": 1.4},
     "encoding": {
      "x": {"field": "d", "timeUnit": "utcyearmonthdate", "type": "temporal", "title": null, "scale": {"type": "utc", "domain": [{"year": 2024, "month": 1, "date": 1, "utc": true}, {"year": 2024, "month": 10, "date": 17, "utc": true}]}, "axis": {"values": [{"year": 2024, "month": 1, "date": 1, "utc": true}, {"year": 2024, "month": 4, "date": 1, "utc": true}, {"year": 2024, "month": 7, "date": 1, "utc": true}, {"year": 2024, "month": 10, "date": 1, "utc": true}], "labelExpr": "utcmonth(datum.value) == 0 ? ['Jan.', '2024'] : utcmonth(datum.value) == 3 ? 'April' : utcmonth(datum.value) == 6 ? 'July' : 'Oct.'", "labelAlign": {"condition": {"test": "utcmonth(datum.value) == 9", "value": "right"}, "value": "center"}}},
      "y": {"field": "kat", "type": "quantitative", "title": null, "scale": {"domain": [0, 300], "nice": false}, "axis": {"values": [0, 100, 200, 300]}}}},
    {"data": {"values": [{"t": "2024-03-30T21:36:00Z", "v": 245}, {"t": "2024-04-10T12:00:00Z", "v": 256}, {"t": "2024-04-21T02:24:00Z", "v": 265}, {"t": "2024-05-19T04:48:00Z", "v": 281}]},
     "mark": {"type": "line", "interpolate": "monotone", "color": "#111", "strokeWidth": 2.5},
     "encoding": {"x": {"field": "t", "type": "temporal", "title": null, "scale": {"type": "utc"}}, "y": {"field": "v", "type": "quantitative", "title": null}}},
    {"data": {"values": [{"t": "2024-01-03T12:00:00Z", "v": 224, "label": "Closing"}, {"t": "2024-01-03T12:00:00Z", "v": 193.5, "label": "arguments in"}, {"t": "2024-01-03T12:00:00Z", "v": 162, "label": "Trump hush"}, {"t": "2024-01-03T12:00:00Z", "v": 132.5, "label": "money trial"}]},
     "mark": {"type": "text", "align": "left", "baseline": "middle", "font": "Roboto", "fontSize": 38, "fontWeight": 300, "color": "#111"},
     "encoding": {"x": {"field": "t", "type": "temporal", "title": null, "scale": {"type": "utc"}}, "y": {"field": "v", "type": "quantitative", "title": null}, "text": {"field": "label"}}}
   ]},
  {"width": 547, "height": 414, "title": "Trina, Florida",
   "mark": {"type": "bar", "color": "#d94f58", "stroke": "#d94f58", "strokeWidth": 1.4},
   "encoding": {
    "x": {"field": "d", "timeUnit": "utcyearmonthdate", "type": "temporal", "title": null, "scale": {"type": "utc", "domain": [{"year": 2024, "month": 1, "date": 1, "utc": true}, {"year": 2024, "month": 10, "date": 17, "utc": true}]}, "axis": {"values": [{"year": 2024, "month": 1, "date": 1, "utc": true}, {"year": 2024, "month": 4, "date": 1, "utc": true}, {"year": 2024, "month": 7, "date": 1, "utc": true}, {"year": 2024, "month": 10, "date": 1, "utc": true}], "labelExpr": "utcmonth(datum.value) == 0 ? ['Jan.', '2024'] : utcmonth(datum.value) == 3 ? 'April' : utcmonth(datum.value) == 6 ? 'July' : 'Oct.'", "labelAlign": {"condition": {"test": "utcmonth(datum.value) == 9", "value": "right"}, "value": "center"}}},
    "y": {"field": "tri", "type": "quantitative", "title": null, "scale": {"domain": [0, 390], "nice": false}, "axis": {"values": [0, 130, 260, 390]}}}}
 ], "spacing": 135, "bounds": "flush"},
 {"width": 1911, "height": 10,
  "data": {"values": [{"src": "Campaign finance records", "org": "LOS ANGELES TIMES"}]},
  "layer": [
   {"mark": {"type": "text", "align": "left", "baseline": "middle", "x": -88, "y": -33.5, "font": "Roboto", "fontSize": 37, "fontWeight": 300, "color": "#222"},
    "encoding": {"text": {"field": "src"}}},
   {"mark": {"type": "text", "align": "right", "baseline": "middle", "x": 1908, "y": 3.5, "font": "Roboto", "fontSize": 29, "fontWeight": "normal", "color": "#222"},
    "encoding": {"text": {"field": "org"}}}
  ]}
],
"spacing": 653.5,
"bounds": "flush",
"config": {
 "view": {"stroke": null},
 "font": "Roboto",
 "title": {"anchor": "start", "frame": "group", "font": "Roboto", "fontSize": 41, "fontWeight": "bold", "color": "#111", "offset": 8},
 "axis": {"labelFont": "Roboto", "labelFontSize": 40, "labelFontWeight": 300, "labelColor": "#222", "labelFlush": false, "labelOverlap": false, "labelBound": false},
 "axisY": {"domain": false, "ticks": false, "tickSize": 0, "labelPadding": 18, "grid": true, "gridColor": "#999", "gridDash": [2, 7], "gridWidth": 2},
 "axisX": {"grid": false, "domainColor": "#999", "domainWidth": 3, "tickColor": "#999", "tickWidth": 3, "tickSize": 10, "labelPadding": 25, "labelLineHeight": 47, "labelBaseline": "top", "zindex": 1}
}
}
